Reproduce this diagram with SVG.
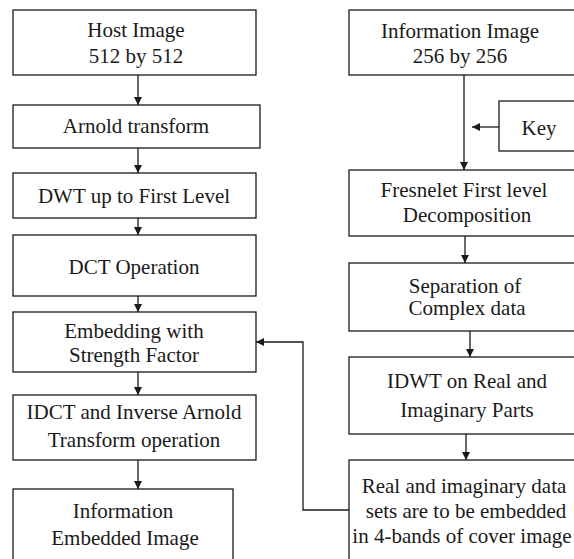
<svg xmlns="http://www.w3.org/2000/svg" width="574" height="559" viewBox="0 0 574 559">
<defs>
<marker id="ah" viewBox="0 0 10 10" refX="10" refY="5" markerWidth="8" markerHeight="8" markerUnits="userSpaceOnUse" orient="auto">
<path d="M0,0 L10,5 L0,10 z" fill="#1a1a1a"/>
</marker>
</defs>
<style>
.box{fill:#fff;stroke:#1a1a1a;stroke-width:1.3}
.c{fill:none;stroke:#1a1a1a;stroke-width:1.3;marker-end:url(#ah)}
text{font-family:"Liberation Serif",serif;font-size:21px;fill:#1a1a1a;text-anchor:middle}
</style>
<rect width="574" height="559" fill="#fff"/>
<g id="connectors">
<line class="c" x1="138" y1="75" x2="138" y2="105"/>
<line class="c" x1="138" y1="148" x2="138" y2="173"/>
<line class="c" x1="138" y1="218" x2="138" y2="235"/>
<line class="c" x1="138" y1="296" x2="138" y2="312"/>
<line class="c" x1="138" y1="372" x2="138" y2="395"/>
<line class="c" x1="138" y1="460" x2="138" y2="489"/>
<line class="c" x1="464" y1="75" x2="464" y2="170"/>
<line class="c" x1="499" y1="127" x2="472" y2="127"/>
<line class="c" x1="465" y1="236" x2="465" y2="263"/>
<line class="c" x1="470" y1="331" x2="470" y2="357"/>
<line class="c" x1="466" y1="434" x2="466" y2="460"/>
<polyline class="c" points="349,510 303,510 303,342 256,342"/>
</g>
<g id="host"><rect class="box" x="13" y="10" width="243" height="65"/><text x="136" y="37">Host Image</text><text x="136" y="63">512 by 512</text></g>
<g id="arnold"><rect class="box" x="13" y="105" width="247" height="43"/><text x="136" y="133">Arnold transform</text></g>
<g id="dwt"><rect class="box" x="13" y="173" width="243" height="45"/><text x="134" y="203">DWT up to First Level</text></g>
<g id="dct"><rect class="box" x="13" y="235" width="243" height="61"/><text x="134" y="274">DCT Operation</text></g>
<g id="embed"><rect class="box" x="13" y="312" width="243" height="60"/><text x="134" y="338">Embedding with</text><text x="134" y="362">Strength Factor</text></g>
<g id="idct"><rect class="box" x="13" y="395" width="243" height="65"/><text x="134" y="419">IDCT and Inverse Arnold</text><text x="134" y="447">Transform operation</text></g>
<g id="output"><rect class="box" x="13" y="489" width="220" height="80"/><text x="123" y="518">Information</text><text x="125" y="545">Embedded Image</text></g>
<g id="info"><rect class="box" x="349" y="10" width="235" height="65"/><text x="460" y="38">Information Image</text><text x="460" y="63">256 by 256</text></g>
<g id="key"><rect class="box" x="499" y="101" width="85" height="50"/><text x="539" y="135">Key</text></g>
<g id="fresnelet"><rect class="box" x="349" y="170" width="235" height="66"/><text x="464" y="197">Fresnelet First level</text><text x="467" y="222">Decomposition</text></g>
<g id="separation"><rect class="box" x="349" y="263" width="235" height="68"/><text x="465" y="293">Separation of</text><text x="467" y="315">Complex data</text></g>
<g id="idwt"><rect class="box" x="349" y="357" width="235" height="77"/><text x="467" y="388">IDWT on Real and</text><text x="467" y="417">Imaginary Parts</text></g>
<g id="realimag"><rect class="box" x="349" y="460" width="235" height="110"/><text x="464" y="493">Real and imaginary data</text><text x="466" y="518">sets are to be embedded</text><text x="462" y="543">in 4-bands of cover image</text></g>
</svg>
